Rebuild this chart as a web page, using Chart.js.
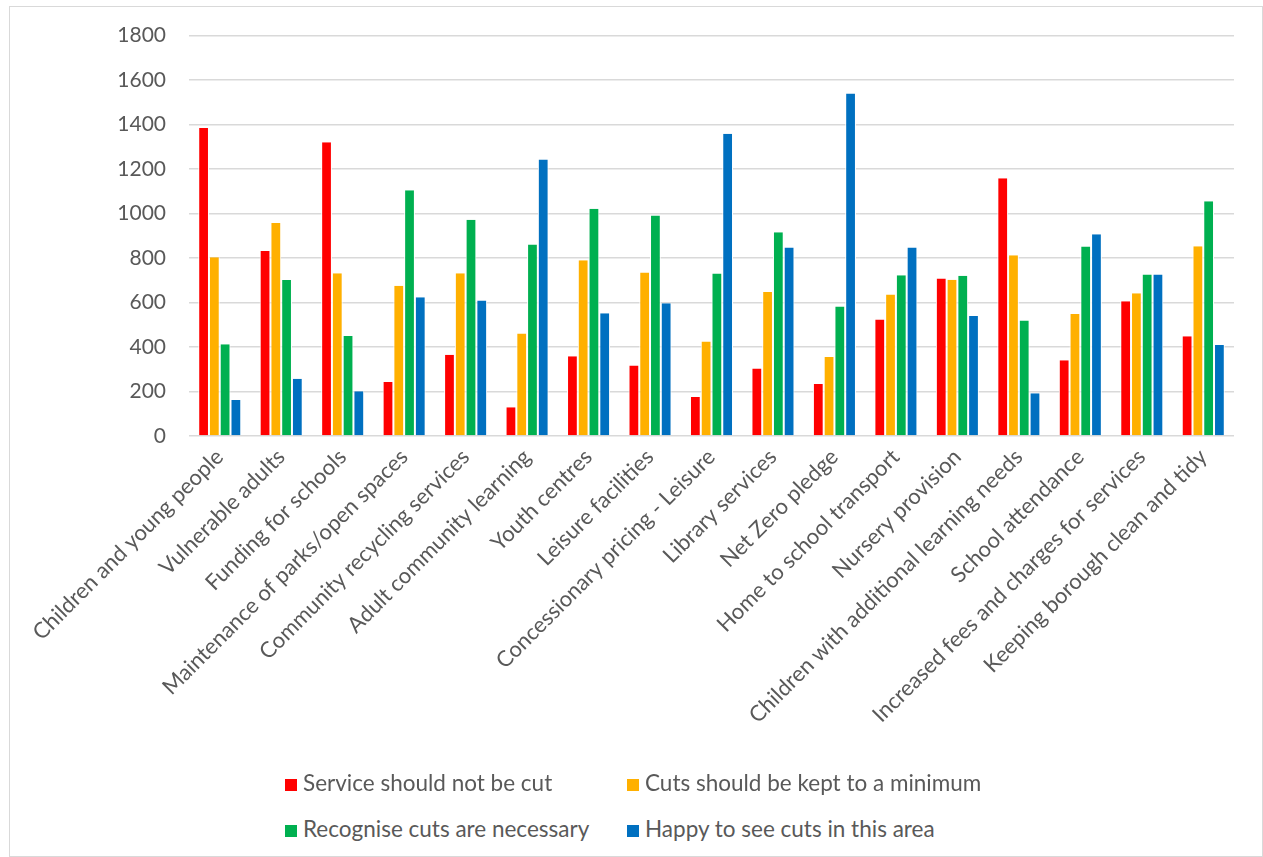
<!DOCTYPE html>
<html>
<head>
<meta charset="utf-8">
<script src="https://cdn.jsdelivr.net/npm/chart.js"></script>
<style>
  body { margin: 0; background: #fff; font-family: Lato, "Open Sans", sans-serif; }
  #wrap { position: absolute; left: 9px; top: 6px; width: 1252px; height: 849px; border: 1px solid #d9d9d9; }
  /* canvas sits 7px higher than the frame; the y scale adds its own top room */
  #box { position: absolute; left: 0; top: -7px; width: 1252px; height: 777px; }
  .leg { position: absolute; font-size: 22.5px; color: #595959; white-space: nowrap; line-height: 24px; }
  .leg span { display: inline-block; width: 12px; height: 12px; margin-right: 6px; vertical-align: 0px; }
</style>
</head>
<body>
<div id="wrap">
  <div id="box"><canvas id="chart"></canvas></div>
  <div id="legend"></div>
</div>
<script>
// categories
const labels = [
  "Children and young people",
  "Vulnerable adults",
  "Funding for schools",
  "Maintenance of parks/open spaces",
  "Community recycling services",
  "Adult community learning",
  "Youth centres",
  "Leisure facilities",
  "Concessionary pricing - Leisure",
  "Library services",
  "Net Zero pledge",
  "Home to school transport",
  "Nursery provision",
  "Children with additional learning needs",
  "School attendance",
  "Increased fees and charges for services",
  "Keeping borough clean and tidy"
];

// series
const notCut   = [1385, 832, 1320, 243, 365, 129, 358, 317, 175, 304, 234, 524, 708, 1159, 341, 606, 448];
const minimum  = [804, 957, 732, 675, 732, 461, 790, 735, 425, 647, 355, 636, 702, 813, 548, 642, 853];
const needed   = [413, 701, 449, 1105, 972, 861, 1022, 991, 731, 916, 582, 723, 720, 519, 852, 726, 1055];
const happy    = [162, 257, 201, 624, 609, 1243, 552, 597, 1359, 847, 1540, 847, 539, 192, 907, 726, 409];

const seriesNames = [
  "Service should not be cut",
  "Cuts should be kept to a minimum",
  "Recognise cuts are necessary",
  "Happy to see cuts in this area"
];
const colors = ["#ff0000", "#ffb000", "#00b050", "#0070c0"];

// y axis
const yMin = 0, yMax = 1800, yStep = 200;

const font = "Lato, 'Open Sans', sans-serif";

function ds(i, data) {
  return {
    label: seriesNames[i],
    data: data,
    backgroundColor: colors[i],
    borderColor: "#ffffff",
    borderWidth: { left: 1, right: 1, top: 0, bottom: 0 },
    categoryPercentage: 0.7,
    barPercentage: 1
  };
}

const chart = new Chart(document.getElementById("chart"), {
  type: "bar",
  data: {
    labels: labels,
    datasets: [ds(0, notCut), ds(1, minimum), ds(2, needed), ds(3, happy)]
  },
  options: {
    responsive: true,
    maintainAspectRatio: false,
    animation: false,
    layout: { padding: { top: 0, right: 28, left: 0, bottom: 0 } },
    plugins: {
      legend: { display: false },
      tooltip: { enabled: false }
    },
    scales: {
      x: {
        grid: { display: false, drawTicks: false },
        border: { display: false },
        ticks: {
          autoSkip: false,
          maxRotation: 45,
          minRotation: 45,
          padding: 8,
          color: "#595959",
          font: { family: font, size: 22 }
        },
        afterFit: (s) => { s.height = 341; }
      },
      y: {
        min: yMin,
        max: yMax,
        grid: { color: "#d9d9d9", lineWidth: 1.5, drawTicks: false },
        border: { display: false },
        ticks: {
          stepSize: yStep,
          padding: 23,
          color: "#595959",
          font: { family: font, size: 21 },
          callback: (v) => String(v)
        },
        afterFit: (s) => { s.width = 179; }
      }
    }
  }
});

// legend, 2 x 2 like the original
const legPos = [[275, 764], [617, 764], [275, 810], [617, 810]];
const legend = document.getElementById("legend");
seriesNames.forEach((name, i) => {
  const d = document.createElement("div");
  d.className = "leg";
  d.style.left = legPos[i][0] + "px";
  d.style.top = legPos[i][1] + "px";
  d.innerHTML = '<span style="background:' + colors[i] + '"></span>' + name;
  legend.appendChild(d);
});
</script>
</body>
</html>
